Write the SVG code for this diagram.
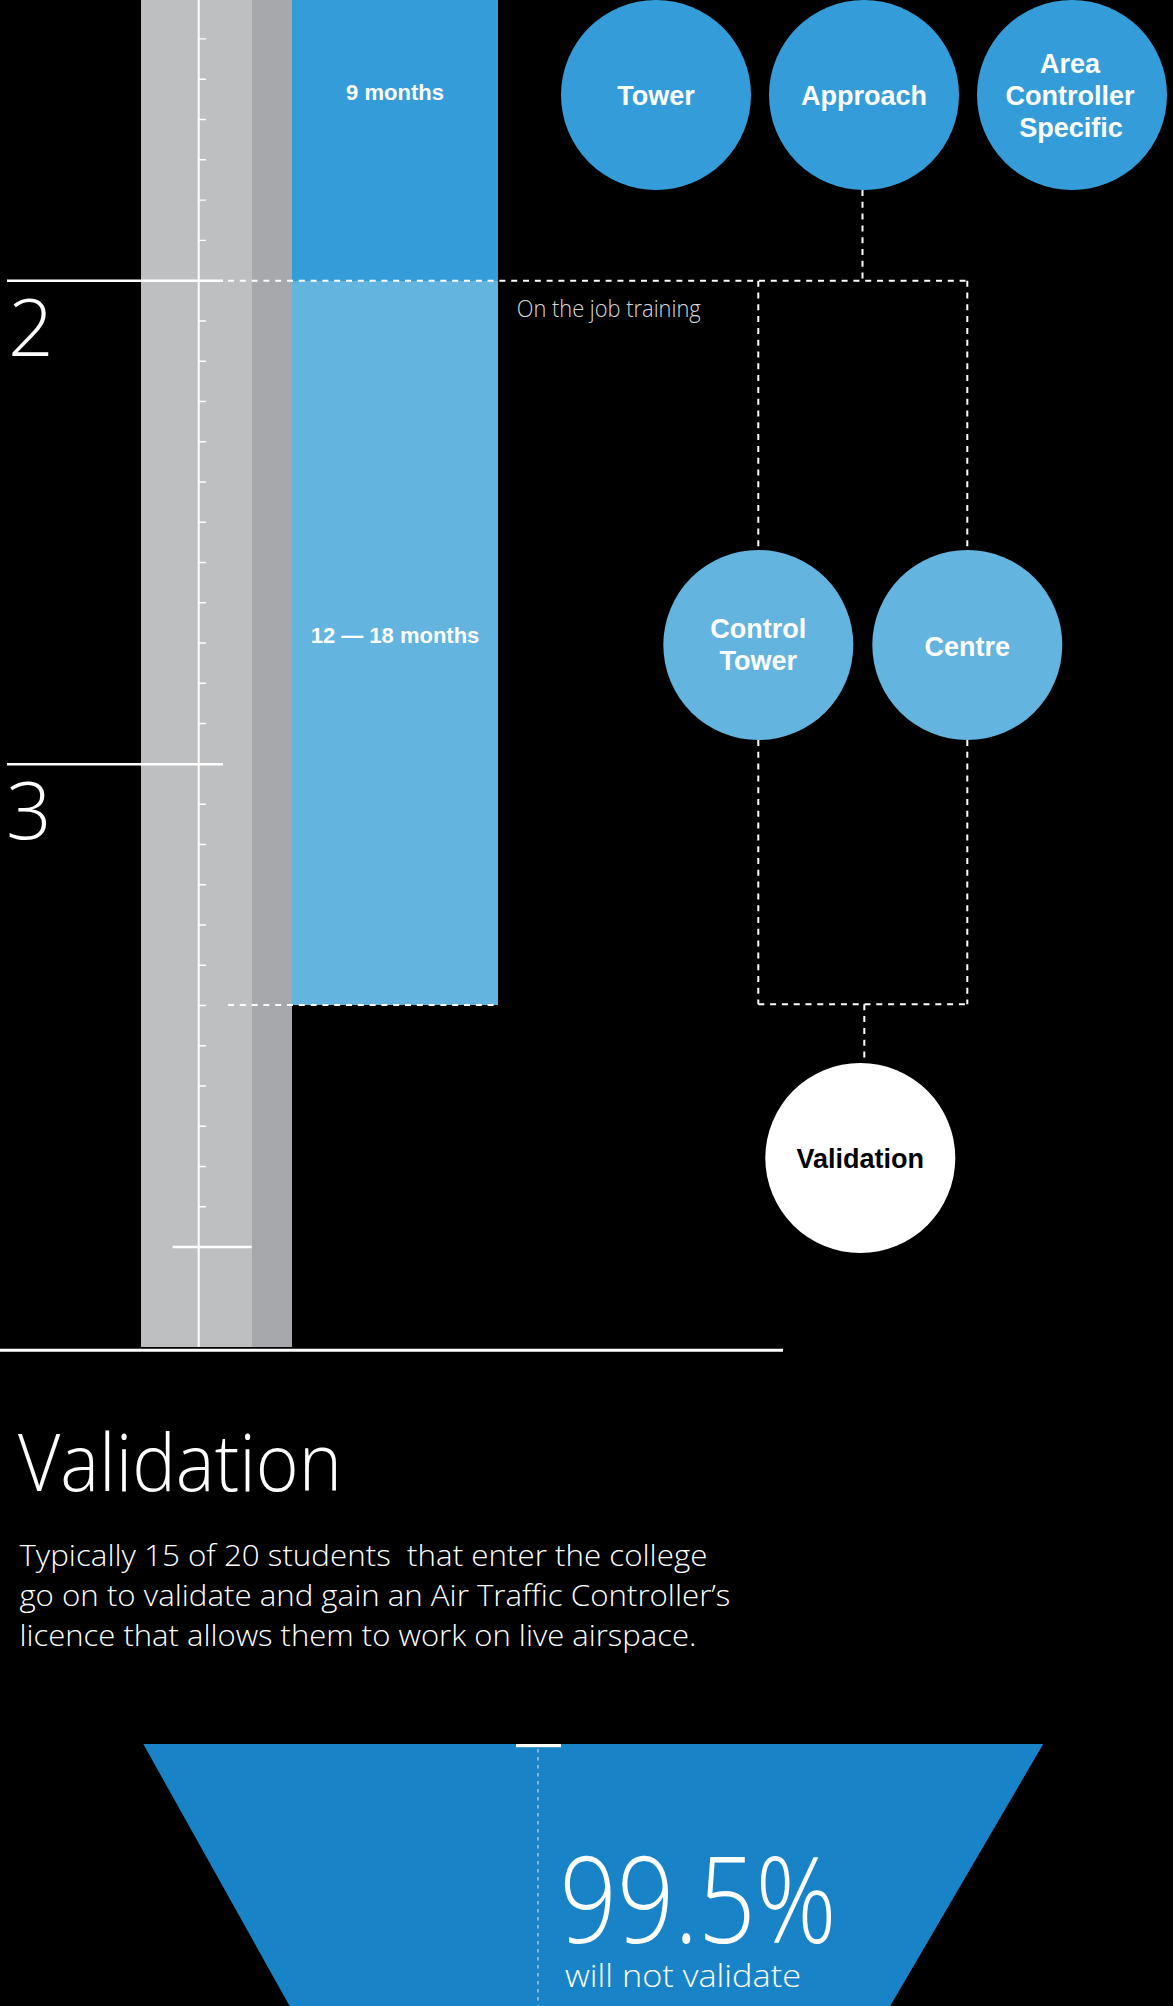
<svg xmlns="http://www.w3.org/2000/svg" width="1173" height="2006" viewBox="0 0 1173 2006">
<style>
.lbl{font-family:"Liberation Sans",Arial,sans-serif;font-weight:700;font-size:27px;fill:#fff;text-anchor:middle}
.dur{font-family:"Liberation Sans",Arial,sans-serif;font-weight:700;font-size:22px;fill:#fff;text-anchor:middle}
.thin{font-family:"Open Sans",Inter,sans-serif;font-weight:300;fill:#fff}
.dash{fill:none;stroke:#fff;stroke-width:2;stroke-dasharray:6 5.8}
.c1{fill:#349DD9}
.c2{fill:#64B4E0}
</style>
<rect x="0" y="0" width="1173" height="2006" fill="#000"/>

<g id="timeline">
  <rect x="141" y="0" width="111" height="1347" fill="#BEBFC1"/>
  <rect x="252" y="0" width="40" height="1347" fill="#A7A8AB"/>
  <rect x="292" y="0" width="206" height="281" class="c1"/>
  <rect x="292" y="281" width="206" height="724" class="c2"/>
  <line x1="198.7" y1="0" x2="198.7" y2="1347" stroke="#fff" stroke-width="2"/>
  <path d="M199 38.9h7M199 79.2h7M199 119.5h7M199 159.8h7M199 200.1h7M199 240.4h7M199 321h7M199 361.2h7M199 401.5h7M199 441.7h7M199 482h7M199 522.2h7M199 562.5h7M199 602.7h7M199 643h7M199 683.2h7M199 723.5h7M199 804.3h7M199 844.5h7M199 884.8h7M199 925h7M199 965.3h7M199 1005.5h7M199 1045.8h7M199 1086h7M199 1126.3h7M199 1166.5h7M199 1206.8h7" stroke="#fff" stroke-width="1.4" fill="none"/>
  <line x1="7" y1="280.7" x2="223" y2="280.7" stroke="#fff" stroke-width="2.6"/>
  <line x1="7" y1="764.2" x2="223" y2="764.2" stroke="#fff" stroke-width="2.6"/>
  <line x1="172.7" y1="1247" x2="251.7" y2="1247" stroke="#fff" stroke-width="2.6"/>
  <line x1="0" y1="1350.3" x2="783" y2="1350.3" stroke="#fff" stroke-width="3"/>
  <text class="thin" x="8" y="356" font-size="80">2</text>
  <text class="thin" x="6" y="838.5" font-size="80">3</text>
  <text class="dur" x="395" y="100">9 months</text>
  <text class="dur" x="395" y="643">12 — 18 months</text>
  <text class="thin" x="516.7" y="316.7" font-size="23" style="fill:#dadada" textLength="184" lengthAdjust="spacingAndGlyphs">On the job training</text>
</g>

<g id="connectors">
  <line class="dash" x1="228" y1="280.7" x2="967.3" y2="280.7"/>
  <line class="dash" x1="862.5" y1="190" x2="862.5" y2="280.7"/>
  <line class="dash" x1="758.3" y1="280.7" x2="758.3" y2="550"/>
  <line class="dash" x1="967.3" y1="280.7" x2="967.3" y2="550"/>
  <line class="dash" x1="758.3" y1="740" x2="758.3" y2="1004.3"/>
  <line class="dash" x1="967.3" y1="740" x2="967.3" y2="1004.3"/>
  <line class="dash" x1="758.3" y1="1004.3" x2="967.3" y2="1004.3"/>
  <line class="dash" x1="864.3" y1="1004.3" x2="864.3" y2="1063"/>
  <line class="dash" x1="228" y1="1005" x2="498" y2="1005"/>
</g>

<g id="node-tower">
  <circle cx="656" cy="95" r="95" class="c1"/>
  <text class="lbl" x="656" y="105">Tower</text>
</g>
<g id="node-approach">
  <circle cx="864" cy="95" r="95" class="c1"/>
  <text class="lbl" x="864" y="105">Approach</text>
</g>
<g id="node-area">
  <circle cx="1072" cy="95" r="95" class="c1"/>
  <text class="lbl" x="1070" y="72.7">Area</text>
  <text class="lbl" x="1070" y="105">Controller</text>
  <text class="lbl" x="1071" y="136.7">Specific</text>
</g>
<g id="node-control-tower">
  <circle cx="758.3" cy="645" r="95" class="c2"/>
  <text class="lbl" x="758.3" y="638.3">Control</text>
  <text class="lbl" x="758.3" y="670">Tower</text>
</g>
<g id="node-centre">
  <circle cx="967.3" cy="645" r="95" class="c2"/>
  <text class="lbl" x="967.3" y="656">Centre</text>
</g>
<g id="node-validation">
  <circle cx="860.3" cy="1158" r="95" fill="#fff"/>
  <text class="lbl" x="860.3" y="1168" style="fill:#000">Validation</text>
</g>

<g id="validation-text">
  <text class="thin" x="18" y="1491" font-size="79" textLength="324" lengthAdjust="spacingAndGlyphs">Validation</text>
  <text class="thin" x="19.4" y="1566" font-size="30" textLength="688" lengthAdjust="spacingAndGlyphs" style="white-space:pre">Typically 15 of 20 students  that enter the college</text>
  <text class="thin" x="19.4" y="1606" font-size="30" textLength="711" lengthAdjust="spacingAndGlyphs">go on to validate and gain an Air Traffic Controller’s</text>
  <text class="thin" x="19.4" y="1646" font-size="30" textLength="677" lengthAdjust="spacingAndGlyphs">licence that allows them to work on live airspace.</text>
</g>

<g id="funnel">
  <polygon points="143.3,1744 1043.2,1744 890.2,2006 289.6,2006" fill="#1884C7"/>
  <rect x="516" y="1744" width="45" height="3.2" fill="#fff"/>
  <line x1="538" y1="1749" x2="538" y2="2006" stroke="#fff" stroke-opacity="0.85" stroke-width="1" stroke-dasharray="3.5 4.5"/>
  <text class="thin" x="559.6" y="1942.7" font-size="120" textLength="277" lengthAdjust="spacingAndGlyphs">99.5%</text>
  <text class="thin" x="565" y="1987" font-size="31" textLength="236" lengthAdjust="spacingAndGlyphs">will not validate</text>
</g>
</svg>
